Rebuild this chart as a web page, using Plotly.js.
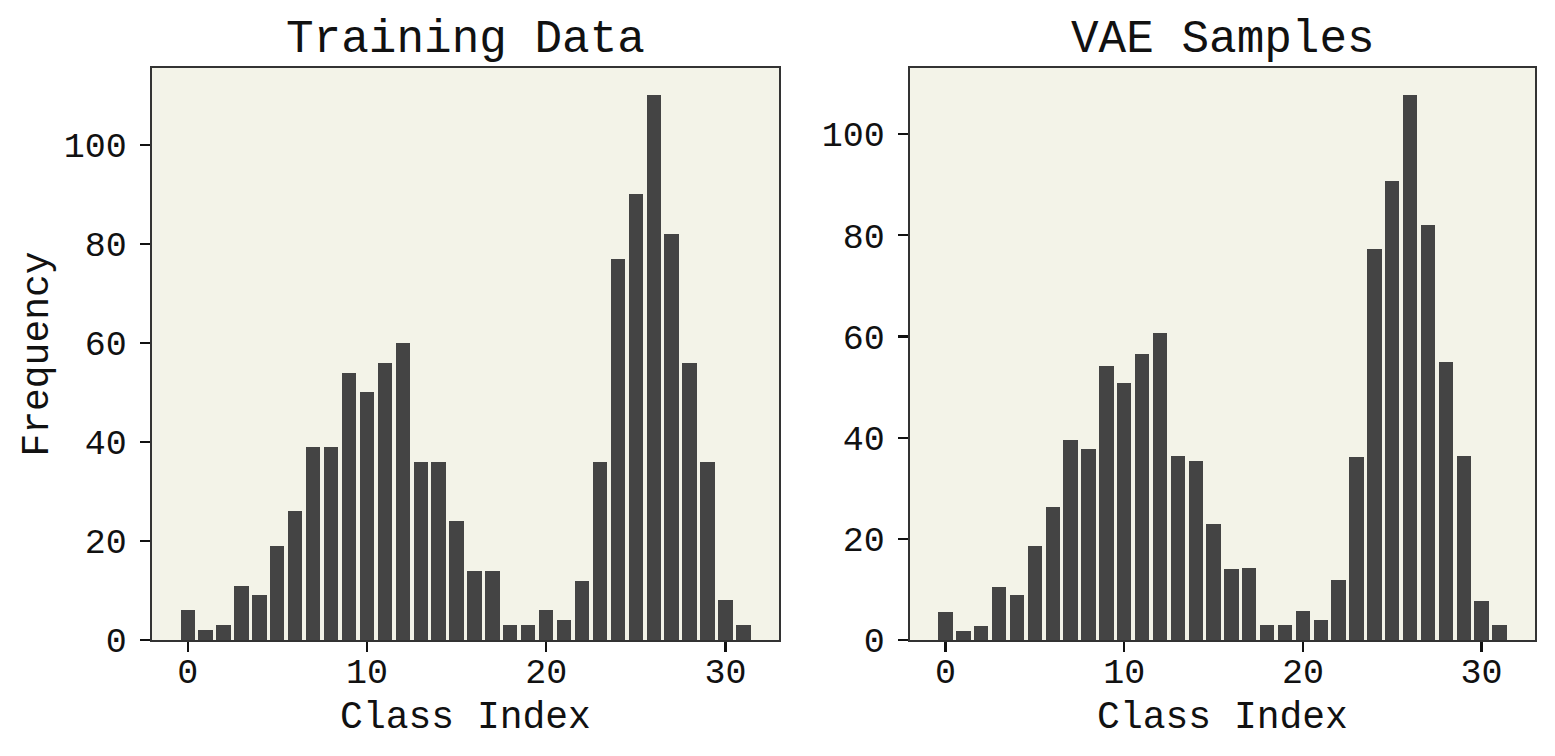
<!DOCTYPE html>
<html>
<head>
<meta charset="utf-8">
<script src="https://cdn.plot.ly/plotly-3.0.1.min.js"></script>
<style>html,body{margin:0;padding:0;background:#fff;}#chart{width:1555px;height:756px;}</style>
</head>
<body>
<div id="chart"></div>
<script>
const classIndex = [0,1,2,3,4,5,6,7,8,9,10,11,12,13,14,15,16,17,18,19,20,21,22,23,24,25,26,27,28,29,30,31];
const trainingFreq = [6,2,3,11,9,19,26,39,39,54,50,56,60,36,36,24,14,14,3,3,6,4,12,36,77,90,110,82,56,36,8,3];
const vaeFreq = [5.6,1.7,2.7,10.4,8.8,18.6,26.2,39.5,37.8,54.2,50.9,56.5,60.6,36.4,35.4,23.0,14.1,14.3,2.9,2.9,5.7,4.0,11.8,36.1,77.3,90.8,107.7,82.1,55.0,36.4,7.8,2.9];
const xTickVals = [0,10,20,30];
const yTickVals = [0,20,40,60,80,100];
const titles = ["Training Data", "VAE Samples"];

const FONT = "Liberation Mono, Courier New, monospace";
const barColor = "#444444";
const frameColor = "#333333";

const traces = [
  {type:"bar", x:classIndex, y:trainingFreq, width:0.8, marker:{color:barColor, line:{width:0}}, xaxis:"x", yaxis:"y", hoverinfo:"x+y"},
  {type:"bar", x:classIndex, y:vaeFreq, width:0.8, marker:{color:barColor, line:{width:0}}, xaxis:"x2", yaxis:"y2", hoverinfo:"x+y"}
];

function xAxis(domain, anchor){
  return {domain:domain, anchor:anchor, range:[-1.99,32.99], tickvals:xTickVals, ticks:"outside", ticklen:10, tickwidth:2.2, tickcolor:"#111",
    showline:true, linecolor:frameColor, linewidth:2.2, mirror:true, showgrid:false, zeroline:false,
    tickfont:{family:FONT, size:35, color:"#111"}, ticklabelstandoff:-11,
    title:{text:"Class Index", font:{family:FONT, size:38, color:"#111"}, standoff:8}};
}
function yAxis(domain, anchor, maxV, withTitle){
  const a = {domain:domain, anchor:anchor, range:[0, maxV*1.05], tickvals:yTickVals, ticks:"outside", ticklen:10, tickwidth:2.2, tickcolor:"#111",
    showline:true, linecolor:frameColor, linewidth:2.2, mirror:true, showgrid:false, zeroline:false,
    tickfont:{family:FONT, size:35, color:"#111"}, ticklabelstandoff:6};
  if (withTitle) a.title = {text:"Frequency", font:{family:FONT, size:38, color:"#111"}, standoff:4};
  return a;
}

const yDom = [116/756, 688/756];
const layout = {
  width:1555, height:756,
  margin:{l:0, r:0, t:0, b:0},
  paper_bgcolor:"#ffffff", plot_bgcolor:"#f3f3e8",
  showlegend:false, bargap:0,
  xaxis: xAxis([152/1555, 779/1555], "y"),
  yaxis: yAxis(yDom, "x", Math.max(...trainingFreq), true),
  xaxis2: xAxis([910/1555, 1535/1555], "y2"),
  yaxis2: yAxis(yDom, "x2", Math.max(...vaeFreq), false),
  annotations: [
    {text:titles[0], xref:"paper", yref:"paper", x:(152+779)/2/1555, y:1-40/756, xanchor:"center", yanchor:"middle", showarrow:false, font:{family:FONT, size:46, color:"#111"}},
    {text:titles[1], xref:"paper", yref:"paper", x:(910+1535)/2/1555, y:1-40/756, xanchor:"center", yanchor:"middle", showarrow:false, font:{family:FONT, size:46, color:"#111"}}
  ]
};
Plotly.newPlot("chart", traces, layout, {displayModeBar:false, staticPlot:true});
</script>
</body>
</html>
